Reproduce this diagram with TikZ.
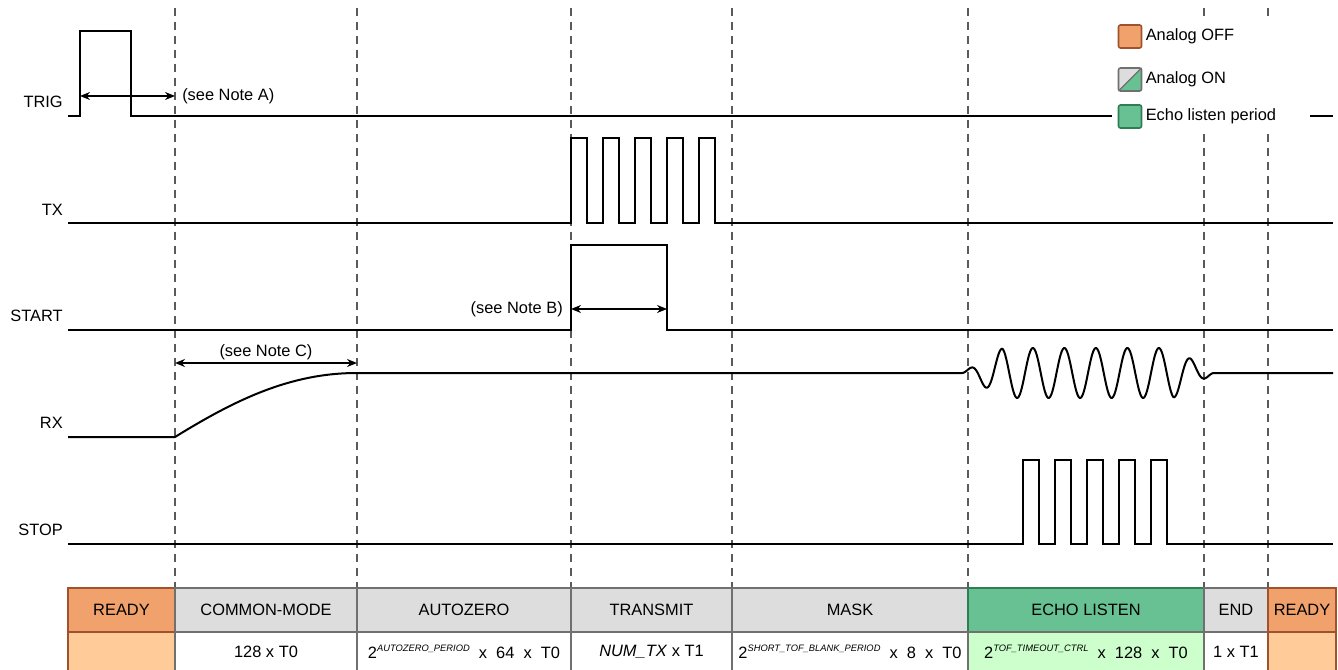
\documentclass[tikz,border=0pt]{standalone}
\usepackage{fontspec}
\setmainfont{Liberation Sans}
\usetikzlibrary{arrows.meta,positioning}
\definecolor{tOrange}{RGB}{241,162,108}
\definecolor{tBrown}{RGB}{160,82,45}
\definecolor{tPeach}{RGB}{255,204,153}
\definecolor{tGray}{RGB}{221,221,221}
\definecolor{tLine}{RGB}{112,112,112}
\definecolor{tGreen}{RGB}{103,193,146}
\definecolor{tDkGreen}{RGB}{46,125,85}
\definecolor{tMint}{RGB}{204,255,204}
\definecolor{tDash}{RGB}{90,90,90}
\newcommand{\phsup}[1]{\raisebox{0.8ex}{\fontsize{7}{8}\selectfont\itshape #1}}

\begin{document}
\begin{tikzpicture}[
			x=0.75pt,y=-0.75pt,
			>={Stealth[length=7.5pt,width=6pt]},
			font=\fontsize{12.3}{14.5}\selectfont,
			sig/.style={line width=1.5pt,line join=miter},
			grid/.style={draw=tDash,line width=0.8pt,dash pattern=on 6pt off 4.5pt},
			dim/.style={<->,line width=1.1pt},
			lbl/.style={inner sep=3pt},
			rdyH/.style={fill=tOrange,draw=tBrown,line width=1.5pt},
			rdyB/.style={fill=tPeach,draw=tBrown,line width=1.5pt},
			phH/.style={fill=tGray,draw=tLine,line width=1.5pt},
			phB/.style={fill=white,draw=tLine,line width=1.5pt},
			echH/.style={fill=tGreen,draw=tDkGreen,line width=1.5pt},
			echB/.style={fill=tMint,draw=tLine,line width=1.5pt},
			lgbox/.style={minimum size=17.25pt,inner sep=0pt,outer sep=0pt,
				rounded corners=1.5pt,line width=1.2pt}
			]
			\useasboundingbox (0,0) rectangle (1338,670);
			% phase boundaries
			\foreach \xx in {175,357,571,732,968,1204,1268}
				\draw[grid] (\xx,8) -- (\xx,588);
			% signal names
			\node[lbl,anchor=east](trig) at (67,102){TRIG};
			\node[lbl,anchor=east](tx) at (67,210){TX};
			\node[lbl,anchor=east](start) at (67,316){START};
			\node[lbl,anchor=east](rx) at (67,423){RX};
			\node[lbl,anchor=east](stop) at (67,530){STOP};
			% waveforms
			\draw[sig] (68,116) -- (80,116) -- (80,31) -- (131,31) -- (131,116) -- (1333,116);
			\draw[sig] (68,223) -- (571,223)
				\foreach \i in {0,...,4}{ -- ({571+32*\i},138) -- ({587+32*\i},138)
				-- ({587+32*\i},223) -- ({603+32*\i},223)} -- (1333,223);
			\draw[sig] (68,330) -- (571,330) -- (571,245) -- (667,245) -- (667,330) -- (1333,330);
			\draw[sig] (68,437) -- (175,437) .. controls (235,400) and (290,373) .. (357,373)
				-- (962,373)
				-- plot[domain=0:8,samples=241,smooth]
				({962+31.5*\x},{373-25*min(1,\x/1.3)*min(1,(8-\x)/1.3)*sin(360*\x)})
				-- (1333,373);
			\draw[sig] (68,544) -- (1022.5,544)
				\foreach \i in {0,...,4}{ -- ({1022.5+32*\i},460) -- ({1038.5+32*\i},460)
				-- ({1038.5+32*\i},544) -- ({1054.5+32*\i},544)} -- (1333,544);
			% notes
			\coordinate (aL) at (80,96);
			\coordinate (aR) at (175,96);
			\coordinate (bL) at (571,309);
			\coordinate (bR) at (667,309);
			\coordinate (cL) at (175,363);
			\coordinate (cR) at (357,363);
			\draw[dim] (aL) -- (aR);
			\draw[dim] (bL) -- (bR);
			\draw[dim] (cL) -- (cR);
			\node[lbl,anchor=west](noteA) at (178,96){(see Note A)};
			\node[lbl,anchor=east](noteB) at (567,309){(see Note B)};
			\node[lbl](noteC) at (266,352){(see Note C)};
			% legend
			\fill[white] (1112,17) rectangle (1310,134);
			\node[lgbox,fill=tOrange,draw=tBrown](lgOff) at (1130,36.5){};
			\node[lgbox,fill=tGray](lgOn) at (1130,79.5){};
			\fill[tGreen] (lgOn.south west) -- (lgOn.south east) -- (lgOn.north east) -- cycle;
			\draw[tLine,line width=1.2pt,rounded corners=1.5pt] (lgOn.south west) rectangle (lgOn.north east);
			\draw[tLine,line width=1pt] (lgOn.south west) -- (lgOn.north east);
			\node[lgbox,fill=tGreen,draw=tDkGreen](lgEcho) at (1130,116.5){};
			\node[lbl,right=0pt of lgOff]{Analog OFF};
			\node[lbl,right=0pt of lgOn]{Analog ON};
			\node[lbl,right=0pt of lgEcho]{Echo listen period};
			% phase table
			\foreach \xa/\xb/\st/\txt [count=\k] in {68/175/rdyH/READY,175/357/phH/COMMON-MODE,
				357/571/phH/AUTOZERO,571/732/phH/TRANSMIT,732/968/phH/MASK,
				968/1204/echH/ECHO LISTEN,1204/1268/phH/END,1268/1336/rdyH/READY}{
				\draw[\st] (\xa,588) rectangle (\xb,632);
				\node(ph\k) at ({(\xa+\xb)/2},610){\txt};
			}
			\foreach \xa/\xb/\st/\txt [count=\k] in {68/175/rdyB/{},175/357/phB/{128 x T0},
				357/571/phB/{2\phsup{AUTOZERO\_PERIOD}\ \ x\ \ 64\ \ x\ \ T0},
				571/732/phB/{\textit{NUM\_TX} x T1},
				732/968/phB/{2\phsup{SHORT\_TOF\_BLANK\_PERIOD}\ \ x\ \ 8\ \ x\ \ T0},
				968/1204/echB/{2\phsup{TOF\_TIMEOUT\_CTRL}\ \ x\ \ 128\ \ x\ \ T0},
				1204/1268/phB/{1 x T1},1268/1336/rdyB/{}}{
				\draw[\st] (\xa,632) rectangle (\xb,674);
				\node(du\k) at ({(\xa+\xb)/2},652){\txt};
			}
		\end{tikzpicture}
\end{document}
